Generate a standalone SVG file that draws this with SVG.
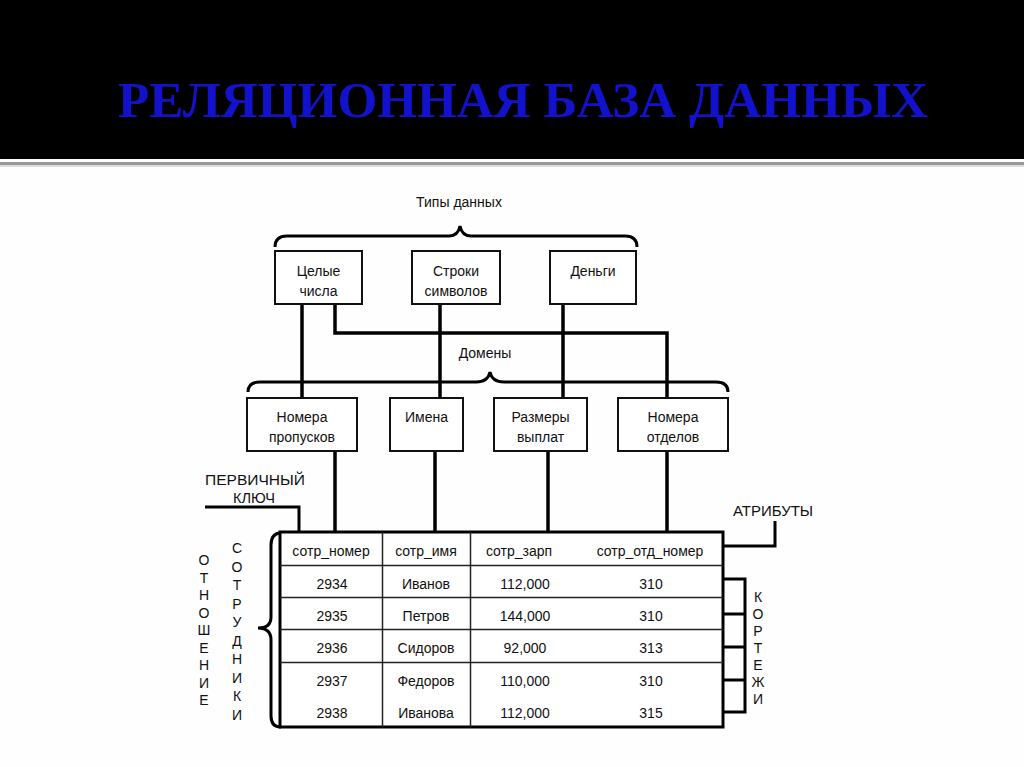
<svg xmlns="http://www.w3.org/2000/svg" width="1024" height="767" viewBox="0 0 1024 767">
<defs>
<style>
.t{font-family:"Liberation Sans",Arial,sans-serif;font-size:14px;fill:#111;text-anchor:middle;}
.c{font-family:"Liberation Sans",Arial,sans-serif;font-size:14px;fill:#111;text-anchor:middle;}
.box{fill:#fff;stroke:#111;stroke-width:2;}
.ln{fill:none;stroke:#000;stroke-width:3.5;}
.br{fill:none;stroke:#000;stroke-width:3;}
.thin{stroke:#222;stroke-width:1.5;}
</style>
</defs>
<rect x="0" y="0" width="1024" height="767" fill="#fefefe"/>
<rect x="0" y="0" width="1024" height="159" fill="#000"/>
<rect x="0" y="162" width="1024" height="3" fill="#9a9a9a"/>
<rect x="0" y="165" width="1024" height="2" fill="#dcdcdc"/>
<text x="523" y="117" font-family="'Liberation Serif','Times New Roman',serif" font-weight="bold" font-size="50" fill="#1212cc" text-anchor="middle" textLength="810" lengthAdjust="spacingAndGlyphs">РЕЛЯЦИОННАЯ БАЗА ДАННЫХ</text>

<g id="connectors">
<path class="br" d="M275,247 Q275,236 287,236 L449,236 Q458,236 460,226 Q462,236 471,236 L625,236 Q637,236 637,247"/>
<path class="br" d="M248,392 Q248,382 260,382 L476,382 Q488,382 490,372 Q492,382 504,382 L716,382 Q728,382 728,392"/>
<path class="ln" d="M302,304 V398"/>
<path class="ln" d="M335,304 V333 H667 V398"/>
<path class="ln" d="M440,304 V398"/>
<path class="ln" d="M563,304 V398"/>
<path class="ln" d="M335,451 V532"/>
<path class="ln" d="M435,451 V532"/>
<path class="ln" d="M548,451 V532"/>
<path class="ln" d="M667,451 V532"/>
<path class="br" d="M205,507 H299 V532"/>
<path class="br" d="M723,546 H775 V521"/>
<path class="br" d="M281,533 Q271,533 271,545 L271,617 Q271,628 258,628 Q271,628 271,640 L271,716 Q271,727 281,727"/>
<path class="br" d="M723,579 H745 V712 H723 M723,614 H745 M723,647 H745 M723,680 H745"/>
</g>

<g id="label-types"><text class="t" x="459" y="207">Типы данных</text></g>
<g id="label-domains"><text class="t" x="485" y="358">Домены</text></g>

<g id="node-int"><rect class="box" x="275" y="251" width="87" height="53"/><text class="t" x="318.5" y="276">Целые</text><text class="t" x="318.5" y="296">числа</text></g>
<g id="node-str"><rect class="box" x="412" y="251" width="88" height="53"/><text class="t" x="456" y="276">Строки</text><text class="t" x="456" y="296">символов</text></g>
<g id="node-money"><rect class="box" x="550" y="251" width="86" height="53"/><text class="t" x="593" y="276">Деньги</text></g>

<g id="node-pass"><rect class="box" x="247" y="398" width="110" height="53"/><text class="t" x="302" y="422">Номера</text><text class="t" x="302" y="442">пропусков</text></g>
<g id="node-names"><rect class="box" x="390" y="398" width="73" height="53"/><text class="t" x="426.5" y="422">Имена</text></g>
<g id="node-pay"><rect class="box" x="494" y="398" width="93" height="53"/><text class="t" x="540.5" y="422">Размеры</text><text class="t" x="540.5" y="442">выплат</text></g>
<g id="node-dept"><rect class="box" x="618" y="398" width="110" height="53"/><text class="t" x="673" y="422">Номера</text><text class="t" x="673" y="442">отделов</text></g>

<g id="label-pk"><text class="c" x="255" y="485" textLength="100" lengthAdjust="spacingAndGlyphs">ПЕРВИЧНЫЙ</text><text class="c" x="254" y="503" textLength="42" lengthAdjust="spacingAndGlyphs">КЛЮЧ</text></g>
<g id="label-attr"><text class="c" x="773" y="516" textLength="80" lengthAdjust="spacingAndGlyphs">АТРИБУТЫ</text></g>

<g id="table">
<rect x="280" y="532" width="443" height="195" fill="#fff" stroke="#000" stroke-width="3"/>
<g class="thin">
<line x1="280" y1="565.5" x2="723" y2="565.5"/>
<line x1="280" y1="597.5" x2="723" y2="597.5"/>
<line x1="280" y1="629.5" x2="723" y2="629.5"/>
<line x1="280" y1="662.5" x2="723" y2="662.5"/>
<line x1="382.5" y1="532" x2="382.5" y2="727"/>
<line x1="470.5" y1="532" x2="470.5" y2="727"/>
</g>
<text class="t" x="331" y="556">сотр_номер</text>
<text class="t" x="426" y="556">сотр_имя</text>
<text class="t" x="519" y="556">сотр_зарп</text>
<text class="t" x="650" y="556">сотр_отд_номер</text>
<text class="t" x="332" y="589">2934</text><text class="t" x="426" y="589">Иванов</text><text class="t" x="525" y="589">112,000</text><text class="t" x="651" y="589">310</text>
<text class="t" x="332" y="621">2935</text><text class="t" x="426" y="621">Петров</text><text class="t" x="525" y="621">144,000</text><text class="t" x="651" y="621">310</text>
<text class="t" x="332" y="653">2936</text><text class="t" x="426" y="653">Сидоров</text><text class="t" x="525" y="653">92,000</text><text class="t" x="651" y="653">313</text>
<text class="t" x="332" y="686">2937</text><text class="t" x="426" y="686">Федоров</text><text class="t" x="525" y="686">110,000</text><text class="t" x="651" y="686">310</text>
<text class="t" x="332" y="718">2938</text><text class="t" x="426" y="718">Иванова</text><text class="t" x="525" y="718">112,000</text><text class="t" x="651" y="718">315</text>
</g>

<g id="label-relation">
<text class="c" x="204" y="565">О</text><text class="c" x="204" y="582.5">Т</text><text class="c" x="204" y="600">Н</text><text class="c" x="204" y="617.5">О</text><text class="c" x="204" y="635">Ш</text><text class="c" x="204" y="652.5">Е</text><text class="c" x="204" y="670">Н</text><text class="c" x="204" y="687.5">И</text><text class="c" x="204" y="705">Е</text>
</g>
<g id="label-employees">
<text class="c" x="237" y="553">С</text><text class="c" x="237" y="571.5">О</text><text class="c" x="237" y="590">Т</text><text class="c" x="237" y="608.5">Р</text><text class="c" x="237" y="627">У</text><text class="c" x="237" y="645.5">Д</text><text class="c" x="237" y="664">Н</text><text class="c" x="237" y="682.5">И</text><text class="c" x="237" y="701">К</text><text class="c" x="237" y="719.5">И</text>
</g>
<g id="label-tuples">
<text class="c" x="758" y="602">К</text><text class="c" x="758" y="619">О</text><text class="c" x="758" y="636">Р</text><text class="c" x="758" y="653">Т</text><text class="c" x="758" y="670">Е</text><text class="c" x="758" y="687">Ж</text><text class="c" x="758" y="704">И</text>
</g>
</svg>
